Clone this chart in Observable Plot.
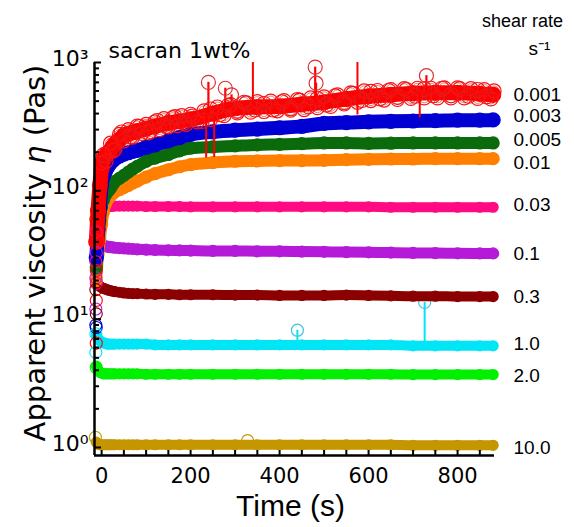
<!DOCTYPE html>
<html>
<head>
<meta charset="utf-8">
<script src="https://cdn.jsdelivr.net/npm/d3@7"></script>
<script src="https://cdn.jsdelivr.net/npm/@observablehq/plot@0.6"></script>
<style>
  html, body { margin: 0; padding: 0; background: #fff; }
</style>
</head>
<body>
<div id="chart"></div>
<script>
// ---------- data ----------
const shearRates = ["0.001", "0.003", "0.005", "0.01", "0.03", "0.1", "0.3", "1.0", "2.0", "10.0"];
const times = [-12, -8, -4, 0, 4, 8, 12, 16, 20, 25, 30, 40, 50, 60, 70, 80, 100, 120, 150, 175, 200, 250, 300, 350, 400, 450, 500, 550, 600, 650, 700, 750, 800, 850, 880];

const eta_0001 = [40, 70, 110, 150, 175, 185, 195, 200, 206, 220, 232, 250, 270, 278, 285, 292, 305, 318, 338, 348, 360, 400, 440, 450, 455, 472, 490, 520, 545, 560, 575, 580, 580, 570, 560];
const eta_0003 = [30, 50, 75, 110, 130, 140, 150, 158, 165, 172, 178, 186, 193, 198, 203, 207, 218, 228, 245, 260, 275, 288, 297, 303, 310, 318, 335, 340, 345, 348, 350, 352, 355, 355, 357];
const eta_0005 = [25, 40, 58, 75, 85, 92, 97, 101, 105, 112, 118, 125, 132, 140, 148, 155, 170, 180, 192, 205, 215, 220, 224, 228, 230, 233, 236, 236, 234, 235, 236, 236, 236, 236, 236];
const eta_001  = [20, 32, 42, 55, 68, 78, 84, 88, 92, 95, 98, 102, 106, 110, 115, 119, 128, 136, 146, 154, 160, 166, 170, 171, 172, 172, 173, 175, 176, 177, 177, 178, 178, 178, 178];
const eta_003  = [28, 36, 45, 60, 70, 74, 75, 75.5, 75.5, 76, 76, 76, 76, 76, 76, 76, 75.5, 75.5, 75.5, 75.5, 75, 75, 75, 75, 75, 75, 75, 75, 75, 74.5, 74.5, 74.5, 74.5, 74.5, 74.5];
const eta_01   = [33, 37, 38, 38, 37.5, 37, 36.8, 36.6, 36.4, 36.2, 36, 35.8, 35.6, 35.4, 35.2, 35, 34.8, 34.6, 34.4, 34.3, 34.2, 34, 34, 33.8, 33.8, 33.6, 33.5, 33.3, 33.2, 33, 32.8, 32.7, 32.6, 32.5, 32.5];
const eta_03   = [19, 18.5, 18, 17.6, 17.4, 17.2, 17, 16.8, 16.7, 16.5, 16.4, 16.2, 16, 15.9, 15.8, 15.8, 15.7, 15.6, 15.6, 15.5, 15.5, 15.5, 15.4, 15.4, 15.3, 15.3, 15.3, 15.4, 15.3, 15.2, 15.1, 15.1, 15.0, 15.0, 15.0];
const eta_1    = [7.5, 7.0, 6.8, 6.6, 6.5, 6.5, 6.4, 6.4, 6.4, 6.4, 6.4, 6.4, 6.4, 6.4, 6.4, 6.4, 6.4, 6.3, 6.3, 6.3, 6.3, 6.3, 6.3, 6.3, 6.3, 6.3, 6.3, 6.3, 6.3, 6.3, 6.2, 6.2, 6.2, 6.2, 6.2];
const eta_2    = [4.3, 4.0, 3.85, 3.8, 3.75, 3.75, 3.75, 3.75, 3.75, 3.75, 3.75, 3.75, 3.75, 3.75, 3.75, 3.75, 3.72, 3.72, 3.72, 3.72, 3.72, 3.72, 3.72, 3.72, 3.72, 3.72, 3.72, 3.72, 3.72, 3.72, 3.7, 3.7, 3.7, 3.7, 3.7];
const eta_10   = [1.1, 1.06, 1.05, 1.05, 1.05, 1.05, 1.05, 1.05, 1.05, 1.05, 1.05, 1.05, 1.05, 1.05, 1.05, 1.05, 1.05, 1.05, 1.05, 1.05, 1.05, 1.05, 1.05, 1.05, 1.05, 1.05, 1.05, 1.05, 1.05, 1.05, 1.04, 1.04, 1.04, 1.04, 1.04];

// noisy individual points of the 0.001 s^-1 run
const redDotT = [-10, 0, 10, 20, 30, 40, 50, 60, 70, 80, 90, 100, 110, 120, 130, 140, 150, 160, 170, 180, 190, 200, 215, 230, 245, 260, 275, 290, 305, 320, 335, 350, 365, 380, 395, 410, 425, 440, 455, 470, 485, 500, 515, 530, 545, 560, 575, 590, 605, 620, 635, 650, 665, 680, 695, 710, 725, 740, 755, 770, 785, 800, 815, 830, 845, 860, 875, 882];
const redDotV = [40, 165, 170, 235, 210, 275, 245, 300, 262, 320, 280, 330, 290, 345, 300, 365, 315, 372, 322, 385, 330, 395, 345, 420, 360, 450, 385, 470, 405, 490, 410, 495, 415, 500, 420, 505, 425, 515, 430, 530, 445, 540, 455, 560, 475, 580, 490, 600, 505, 605, 510, 615, 515, 625, 525, 630, 530, 630, 530, 635, 530, 635, 530, 625, 525, 615, 520, 600];
const redDot2T = [5, 25, 45, 65, 85, 105, 125, 145, 165, 185, 205, 225, 245, 265, 285, 305, 325, 345, 365, 385, 405, 425, 445, 465, 485, 505, 525, 545, 565, 585, 605, 625, 645, 665, 685, 705, 725, 745, 765, 785, 805, 825, 845, 865];
const redDot2V = [190, 205, 285, 265, 315, 285, 350, 320, 375, 340, 380, 350, 430, 395, 460, 420, 480, 430, 475, 430, 490, 440, 505, 455, 520, 470, 545, 490, 570, 510, 590, 525, 600, 540, 610, 550, 620, 555, 625, 555, 620, 550, 610, 545];

// outliers (spikes) of the 0.001 s^-1 run: circle at top, stem to the band
const redSpikeT    = [240, 278, 292, 480, 482, 730];
const redSpikeV    = [700, 630, 560, 920, 690, 790];
const redSpikeBase = [400, 430, 440, 480, 480, 575];
// plain red spike lines
const redLineT  = [340, 575, 715, 235, 253];
const redLineV1 = [1000, 1000, 575, 390, 395];
const redLineV2 = [450, 390, 370, 180, 182];

// cyan (1.0 s^-1) outliers
const cyanSpikeT = [440, 726];
const cyanSpikeV = [8.2, 13.5];
const cyanSpikeBase = [6.3, 6.2];
// gold (10.0) outlier
const goldOutT = [328];
const goldOutV = [1.13];

// first points of all runs (column at the start)
const earlyT = [-13, -12, -13, -12, -13, -12, -13, -12, -13, -12, -13, -12, -13, -12, -13, -12, -13, -12, -14];
const earlyV = [60, 48, 40, 33, 28, 24, 21, 19, 17, 14, 12, 11, 9, 8.6, 7.7, 6.5, 5.5, 4.2, 1.2];
const earlyS = ["0.001", "0.03", "0.001", "0.1", "0.03", "0.001", "0.1", "0.03", "0.3", "0.001", "0.1", "0.3", "0.003", "0.003", "1.0", "0.001", "1.0", "2.0", "10.0"];

const xTicksMajor = [0, 200, 400, 600, 800];
const yTicksMajor = [1, 10, 100, 1000];
const yTickLabels = ["10⁰", "10¹", "10²", "10³"];

// ---------- styles ----------
const palette = {
  "0.001": "#ff0000", "0.003": "#0000d2", "0.005": "#0b6a0b", "0.01": "#ff7f00",
  "0.03": "#ff0a82", "0.1": "#b41ad8", "0.3": "#8b0000", "1.0": "#00e6f6",
  "2.0": "#00f000", "10.0": "#c49600"
};
const bandWidth = {
  "0.001": 15, "0.003": 14, "0.005": 12, "0.01": 12, "0.03": 10,
  "0.1": 11, "0.3": 10, "1.0": 10, "2.0": 10, "10.0": 10
};
// small vertical pixel nudges of the right-hand labels
const labelNudge = {
  "0.001": 0, "0.003": -4, "0.005": -3, "0.01": 4, "0.03": -2,
  "0.1": 0, "0.3": 0, "1.0": -2, "2.0": 1, "10.0": 3
};
const seriesValues = [eta_0001, eta_0003, eta_0005, eta_001, eta_003, eta_01, eta_03, eta_1, eta_2, eta_10];

const series = shearRates.map((s, i) => ({
  s,
  rows: times.map((t, j) => ({t, v: seriesValues[i][j], s}))
}));
const redDots = redDotT.map((t, i) => ({t, v: redDotV[i]}));
const redDots2 = redDot2T.map((t, i) => ({t, v: redDot2V[i]}));
const redSpikes = redSpikeT.map((t, i) => ({t, v: redSpikeV[i], b: redSpikeBase[i]}));
const redLines = redLineT.map((t, i) => ({t, v1: redLineV1[i], v2: redLineV2[i]}));
const cyanSpikes = cyanSpikeT.map((t, i) => ({t, v: cyanSpikeV[i], b: cyanSpikeBase[i]}));
const goldOut = goldOutT.map((t, i) => ({t, v: goldOutV[i]}));
const early = earlyT.map((t, i) => ({t, v: earlyV[i], s: earlyS[i]}));
const labelRows = series.map(d => ({s: d.s, v: d.rows[d.rows.length - 1].v}));

const xMin = -16, xMax = 883, yMin = 0.866, yMax = 1000;
const yMinor = [];
for (const dec of [1, 10, 100]) for (let k = 2; k <= 9; k++) yMinor.push(k * dec);
const xMinor = d3.range(0, 900, 50);

const wide = "DejaVu Sans";
const arial = "Liberation Sans, Arial, sans-serif";

// draw from bottom series to top series, red on top
const drawOrder = [...series].reverse();
const seriesMarks = [];
for (const d of drawOrder) {
  const c = palette[d.s];
  seriesMarks.push(Plot.line(d.rows, {x: "t", y: "v", stroke: c, strokeWidth: bandWidth[d.s], strokeLinecap: "round", strokeLinejoin: "round", curve: "monotone-x"}));
  seriesMarks.push(Plot.dot(d.rows, {x: "t", y: "v", r: bandWidth[d.s] / 2, stroke: c, strokeWidth: 1.2, fill: "none"}));
  if (d.s === "1.0") {
    seriesMarks.push(Plot.ruleX(cyanSpikes, {x: "t", y1: "b", y2: "v", stroke: c, strokeWidth: 2}));
    seriesMarks.push(Plot.dot(cyanSpikes, {x: "t", y: "v", r: 6, stroke: "#40c8d8", strokeWidth: 1.2, fill: "none"}));
  }
  if (d.s === "10.0") {
    seriesMarks.push(Plot.dot(goldOut, {x: "t", y: "v", r: 6, stroke: c, strokeWidth: 1.2, fill: "none"}));
  }
  if (d.s === "0.001") {
    seriesMarks.push(Plot.dot(redDots2, {x: "t", y: "v", r: 7.5, stroke: "#e81c1c", strokeWidth: 1.1, fill: "none"}));
    seriesMarks.push(Plot.dot(redDots, {x: "t", y: "v", r: 7, stroke: "#ff1010", strokeWidth: 1.2, fill: "none"}));
    seriesMarks.push(Plot.dot(redDots, {x: "t", y: "v", r: 5, stroke: "#d01818", strokeWidth: 0.8, fill: "none", strokeOpacity: 0.7}));
    seriesMarks.push(Plot.ruleX(redLines, {x: "t", y1: "v1", y2: "v2", stroke: c, strokeWidth: 2}));
    seriesMarks.push(Plot.ruleX(redSpikes, {x: "t", y1: "b", y2: "v", stroke: c, strokeWidth: 2.2}));
    seriesMarks.push(Plot.dot(redSpikes, {x: "t", y: "v", r: 7, stroke: "#e03030", strokeWidth: 1.2, fill: "none"}));
  }
}

const labelMarks = labelRows.map(d =>
  Plot.text([d], {y: "v", text: "s", frameAnchor: "right", dx: 19, dy: labelNudge[d.s], textAnchor: "start", fontSize: 19, fontFamily: arial, fill: "black"})
);

const chart = Plot.plot({
  width: 574,
  height: 527,
  marginLeft: 94,
  marginRight: 80,
  marginTop: 62,
  marginBottom: 72,
  style: {fontFamily: arial, background: "white", color: "black", overflow: "visible"},
  x: {domain: [xMin, xMax], label: null},
  y: {type: "log", domain: [yMin, yMax], label: null},
  marks: [
    ...seriesMarks,
    Plot.dot(early, {x: "t", y: "v", r: 6, stroke: d => palette[d.s], strokeWidth: 1.1, fill: "none"}),
    // axes lines
    Plot.ruleX([xMin], {stroke: "black", strokeWidth: 2.5}),
    Plot.ruleY([yMin], {stroke: "black", strokeWidth: 2.5}),
    // x ticks (inward) and labels
    Plot.axisX({ticks: xMinor, tickSize: -5, tickFormat: () => "", strokeWidth: 2}),
    Plot.axisX({ticks: xTicksMajor, tickSize: 0, tickPadding: 13, tickFormat: d => String(d), fontSize: 21, fontFamily: wide, label: null}),
    // y ticks (inward) and labels
    Plot.axisY({ticks: yMinor, tickSize: -5, tickFormat: () => "", strokeWidth: 2}),
    Plot.axisY({ticks: yTicksMajor, tickSize: -7, tickFormat: () => "", strokeWidth: 2}),
    Plot.axisY({ticks: yTicksMajor, tickSize: 0, tickPadding: 6, dy: -4, tickFormat: d => yTickLabels[yTicksMajor.indexOf(d)], fontSize: 22, fontFamily: wide, label: null}),
    // series labels
    ...labelMarks,
    // title and legend heading
    Plot.text(["sacran 1wt%"], {frameAnchor: "top-left", dx: 14, dy: -5, lineAnchor: "bottom", textAnchor: "start", fontSize: 22, fontFamily: wide, fill: "black"}),
    Plot.text(["shear rate"], {frameAnchor: "top-right", dx: 28, dy: -36, lineAnchor: "bottom", textAnchor: "middle", fontSize: 18, fontFamily: arial, fill: "black"}),
    Plot.text(["s⁻¹"], {frameAnchor: "top-right", dx: 45, dy: -8, lineAnchor: "bottom", textAnchor: "middle", fontSize: 19, fontFamily: arial, fill: "black"}),
    // x axis title
    Plot.text(["Time (s)"], {frameAnchor: "bottom", dx: -4, dy: 60, lineAnchor: "bottom", textAnchor: "middle", fontSize: 30, fontFamily: arial, fill: "black"})
  ]
});

// y axis title with italic eta
const svg = d3.select(chart);
const yt = svg.append("text")
  .attr("transform", "translate(45,253) rotate(-90)")
  .attr("text-anchor", "middle")
  .attr("font-family", wide)
  .attr("font-size", 29)
  .attr("fill", "black");
yt.append("tspan").text("Apparent viscosity ");
yt.append("tspan").attr("font-style", "italic").text("η");
yt.append("tspan").text(" (Pas)");

document.getElementById("chart").appendChild(chart);
</script>
</body>
</html>
